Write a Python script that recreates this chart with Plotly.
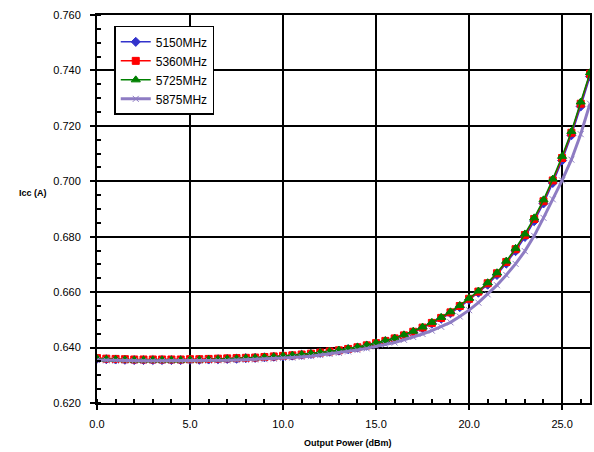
import plotly.graph_objects as go

power_dbm = [i * 0.5 for i in range(54)]  # 0.0 .. 26.5 dBm

icc_5725 = [0.6360, 0.6358, 0.6357, 0.6356, 0.6355, 0.6355, 0.6355, 0.6355, 0.6355, 0.6355,
            0.6356, 0.6356, 0.6357, 0.6358, 0.6359, 0.6360, 0.6362, 0.6363, 0.6365, 0.6367,
            0.6370, 0.6372, 0.6375, 0.6378, 0.6382, 0.6386, 0.6391, 0.6396, 0.6402, 0.6409,
            0.6417, 0.6425, 0.6434, 0.6446, 0.6459, 0.6474, 0.6491, 0.6509, 0.6529, 0.6552,
            0.6578, 0.6604, 0.6634, 0.6670, 0.6712, 0.6758, 0.6810, 0.6868, 0.6933, 0.7008,
            0.7090, 0.7180, 0.7286, 0.7392]
icc_5360 = [0.6362, 0.6360, 0.6359, 0.6358, 0.6357, 0.6357, 0.6357, 0.6357, 0.6357, 0.6357,
            0.6358, 0.6358, 0.6359, 0.6360, 0.6361, 0.6362, 0.6363, 0.6364, 0.6366, 0.6368,
            0.6370, 0.6372, 0.6375, 0.6378, 0.6382, 0.6386, 0.6390, 0.6395, 0.6401, 0.6408,
            0.6416, 0.6424, 0.6433, 0.6444, 0.6457, 0.6472, 0.6489, 0.6507, 0.6527, 0.6550,
            0.6576, 0.6602, 0.6632, 0.6668, 0.6709, 0.6755, 0.6806, 0.6864, 0.6928, 0.7003,
            0.7084, 0.7175, 0.7280, 0.7388]
icc_5150 = [0.6360, 0.6358, 0.6357, 0.6356, 0.6355, 0.6355, 0.6355, 0.6355, 0.6355, 0.6355,
            0.6356, 0.6356, 0.6357, 0.6358, 0.6359, 0.6360, 0.6362, 0.6363, 0.6365, 0.6367,
            0.6369, 0.6371, 0.6374, 0.6377, 0.6381, 0.6385, 0.6389, 0.6394, 0.6400, 0.6407,
            0.6415, 0.6423, 0.6432, 0.6443, 0.6455, 0.6470, 0.6486, 0.6504, 0.6524, 0.6546,
            0.6572, 0.6598, 0.6627, 0.6662, 0.6703, 0.6748, 0.6799, 0.6856, 0.6920, 0.6994,
            0.7075, 0.7166, 0.7270, 0.7378]
icc_5875 = [0.6355, 0.6354, 0.6353, 0.6353, 0.6352, 0.6352, 0.6352, 0.6352, 0.6352, 0.6352,
            0.6353, 0.6353, 0.6353, 0.6354, 0.6354, 0.6355, 0.6356, 0.6357, 0.6358, 0.6360,
            0.6362, 0.6364, 0.6366, 0.6369, 0.6373, 0.6377, 0.6381, 0.6386, 0.6391, 0.6397,
            0.6404, 0.6411, 0.6418, 0.6428, 0.6438, 0.6449, 0.6461, 0.6475, 0.6491, 0.6512,
            0.6535, 0.6562, 0.6592, 0.6625, 0.6662, 0.6702, 0.6748, 0.6803, 0.6868, 0.6935,
            0.7003, 0.7078, 0.7170, 0.7280]

series = [
    ("5150MHz", icc_5150, "#3333CC", "diamond", 1.5, 7),
    ("5360MHz", icc_5360, "#FF0000", "square", 1.5, 7),
    ("5725MHz", icc_5725, "#008000", "triangle-up", 1.5, 8),
    ("5875MHz", icc_5875, "#8E7CC3", "x-thin", 3, 6),
]

x_ticks = [0, 5, 10, 15, 20, 25]
y_ticks = [0.62, 0.64, 0.66, 0.68, 0.70, 0.72, 0.74, 0.76]

fig = go.Figure()
for name, ys, color, sym, lw, ms in series:
    fig.add_trace(go.Scatter(
        x=power_dbm, y=ys, name=name, mode="lines+markers",
        line=dict(color=color, width=lw),
        marker=dict(symbol=sym, size=ms, color=color,
                    line=dict(color=color, width=1)),
    ))

axis_common = dict(
    showline=True, linecolor="black", linewidth=2, mirror=True,
    showgrid=True, gridcolor="black", gridwidth=1.5,
    ticks="outside", ticklen=5, tickcolor="black", tickwidth=1.5,
    zeroline=False,
    tickfont=dict(family="Liberation Sans, Arial", size=11, color="black"),
)

fig.update_xaxes(range=[0, 26.5], tickvals=x_ticks, tickformat=".1f",
                 ticklabelstandoff=5,
                 minor=dict(ticks="inside", dtick=1, tick0=0, ticklen=4,
                            tickcolor="black", tickwidth=1.5, showgrid=False),
                 **axis_common)
fig.update_yaxes(range=[0.62, 0.76], tickvals=y_ticks, tickformat=".3f",
                 ticklabelstandoff=7,
                 minor=dict(ticks="inside", dtick=0.005, tick0=0.62, ticklen=4,
                            tickcolor="black", tickwidth=1.5, showgrid=False),
                 **axis_common)

fig.update_layout(
    width=594, height=452,
    margin=dict(l=97, r=2, t=15, b=49, pad=0),
    plot_bgcolor="white", paper_bgcolor="white",
    font=dict(family="Liberation Sans, Arial", size=11, color="black"),
    showlegend=True,
    legend=dict(x=0.035, y=0.972, xanchor="left", yanchor="top",
                bgcolor="white", bordercolor="black", borderwidth=1.5,
                font=dict(size=12), tracegroupgap=0, itemwidth=30),
    annotations=[
        dict(text="<b>Icc (A)</b>", xref="paper", yref="paper",
             x=-0.163, y=0.541, xanchor="left", yanchor="middle",
             showarrow=False, font=dict(size=9)),
        dict(text="<b>Output Power (dBm)</b>", xref="paper", yref="paper",
             x=0.51, y=-0.103, xanchor="center", yanchor="middle",
             showarrow=False, font=dict(size=9)),
    ],
)

fig.write_html("out.html", config={"displayModeBar": False},
               post_script="document.body.style.margin='0';document.body.style.padding='0';")
